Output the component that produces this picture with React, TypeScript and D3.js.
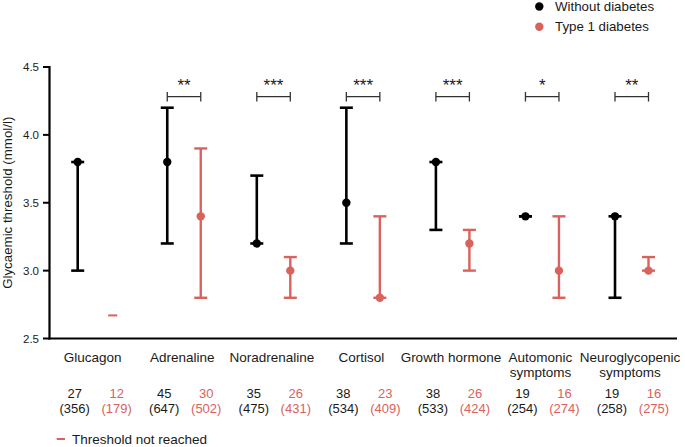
import React from "react";
import * as d3 from "d3";

const categories = ["Glucagon", "Adrenaline", "Noradrenaline", "Cortisol", "Growth hormone", "Automonic\nsymptoms", "Neuroglycopenic\nsymptoms"];
const noDiabMedian = [3.8, 3.8, 3.2, 3.5, 3.8, 3.4, 3.4];
const noDiabLow = [3.0, 3.2, 3.2, 3.2, 3.3, 3.4, 2.8];
const noDiabHigh = [3.8, 4.2, 3.7, 4.2, 3.8, 3.4, 3.4];
const t1dMedian = [null, 3.4, 3.0, 2.8, 3.2, 3.0, 3.0];
const t1dLow = [null, 2.8, 2.8, 2.8, 3.0, 2.8, 3.0];
const t1dHigh = [null, 3.9, 3.1, 3.4, 3.3, 3.4, 3.1];
const notReached = [2.67, null, null, null, null, null, null];
const significance = ["", "**", "***", "***", "***", "*", "**"];
const noDiabN = ["27", "45", "35", "38", "38", "19", "19"];
const noDiabTotal = ["(356)", "(647)", "(475)", "(534)", "(533)", "(254)", "(258)"];
const t1dN = ["12", "30", "26", "23", "26", "16", "16"];
const t1dTotal = ["(179)", "(502)", "(431)", "(409)", "(424)", "(274)", "(275)"];
const yTicks = [2.5, 3.0, 3.5, 4.0, 4.5];

const BLACK = "#000";
const RED = "#d9625c";
const TXT = "#1a1a1a";
const FONT = "Liberation Sans, Arial, sans-serif";

export default function App() {
  const y = d3.scaleLinear().domain([2.5, 4.5]).range([338.5, 67]);
  const x = d3.scaleLinear().domain([0, 6]).range([77.7, 615]);
  const off = 33.5;
  const cap = 6.5;

  const errBar = (cx: number, lo: number, hi: number, med: number, color: string, w: number, key: string) => (
    <g key={key}>
      <line x1={cx} x2={cx} y1={y(lo)} y2={y(hi)} stroke={color} strokeWidth={w} />
      <line x1={cx - cap} x2={cx + cap} y1={y(lo)} y2={y(lo)} stroke={color} strokeWidth={w} />
      <line x1={cx - cap} x2={cx + cap} y1={y(hi)} y2={y(hi)} stroke={color} strokeWidth={w} />
      <circle cx={cx} cy={y(med)} r={4.2} fill={color} />
    </g>
  );

  return (
    <svg width={685} height={447} style={{ position: "absolute", left: 0, top: 0 }} fontFamily={FONT}>
      <rect width={685} height={447} fill="#fff" />
      {/* legend */}
      <circle cx={539.3} cy={6.5} r={4.2} fill={BLACK} />
      <text x={555} y={11} fontSize={13.3} fill={TXT}>Without diabetes</text>
      <circle cx={539.3} cy={26.7} r={4.2} fill={RED} />
      <text x={555} y={31} fontSize={13.3} fill={TXT}>Type 1 diabetes</text>

      {/* y axis */}
      <line x1={49.5} x2={49.5} y1={y(4.5) - 1} y2={y(2.5) + 1} stroke="#000" strokeWidth={2.2} />
      {yTicks.map((t) => (
        <g key={t}>
          <line x1={43} x2={49.5} y1={y(t)} y2={y(t)} stroke="#000" strokeWidth={2} />
          <text x={39} y={y(t) + 4} fontSize={11.5} textAnchor="end" fill={TXT}>{t.toFixed(1)}</text>
        </g>
      ))}
      <text transform={`translate(12,${y(3.5)}) rotate(-90)`} fontSize={13.3} textAnchor="middle" fill={TXT}>Glycaemic threshold (mmol/l)</text>
      {/* x axis */}
      <line x1={48.5} x2={677} y1={y(2.5)} y2={y(2.5)} stroke="#000" strokeWidth={2.2} />

      {categories.map((c, i) => {
        const bx = x(i);
        const rx = bx + off;
        const lines = c.split("\n");
        return (
          <g key={c}>
            {errBar(bx, noDiabLow[i], noDiabHigh[i], noDiabMedian[i], BLACK, 2.6, "b")}
            {t1dMedian[i] !== null && errBar(rx, t1dLow[i] as number, t1dHigh[i] as number, t1dMedian[i] as number, RED, 2.4, "r")}
            {notReached[i] !== null && (
              <line x1={rx - 3} x2={rx + 6} y1={y(notReached[i] as number)} y2={y(notReached[i] as number)} stroke={RED} strokeWidth={2} />
            )}
            {significance[i] && (
              <g>
                <line x1={bx} x2={rx} y1={96.7} y2={96.7} stroke="#333" strokeWidth={1.3} />
                <line x1={bx} x2={bx} y1={92} y2={101.5} stroke="#333" strokeWidth={1.3} />
                <line x1={rx} x2={rx} y1={92} y2={101.5} stroke="#333" strokeWidth={1.3} />
                <text x={(bx + rx) / 2} y={91} fontSize={17} textAnchor="middle" fill={TXT}>{significance[i]}</text>
              </g>
            )}
            {lines.map((l, k) => (
              <text key={k} x={bx + 15} y={361.5 + k * 15} fontSize={13.5} textAnchor="middle" fill={TXT}>{l}</text>
            ))}
            <text x={bx - 3} y={398.3} fontSize={13} textAnchor="middle" fill={TXT}>{noDiabN[i]}</text>
            <text x={bx - 3} y={413} fontSize={13} textAnchor="middle" fill={TXT}>{noDiabTotal[i]}</text>
            <text x={bx + 39} y={398.3} fontSize={13} textAnchor="middle" fill={RED}>{t1dN[i]}</text>
            <text x={bx + 39} y={413} fontSize={13} textAnchor="middle" fill={RED}>{t1dTotal[i]}</text>
          </g>
        );
      })}

      {/* threshold legend */}
      <line x1={56.7} x2={65} y1={439} y2={439} stroke={RED} strokeWidth={2} />
      <text x={72} y={444} fontSize={13.5} fill={TXT}>Threshold not reached</text>
    </svg>
  );
}
